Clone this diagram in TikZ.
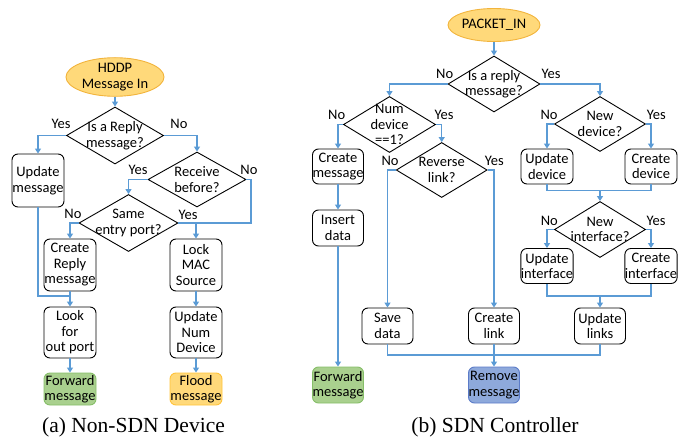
\documentclass[tikz,border=0pt]{standalone}
\usepackage{fontspec}
\setmainfont{Carlito}
\newfontfamily\capfont{Liberation Serif}
\usetikzlibrary{shapes.geometric,arrows.meta}
\definecolor{lineblue}{HTML}{5B9BD5}
\definecolor{ellfill}{HTML}{FFD97A}
\definecolor{ellline}{HTML}{F2B43C}
\definecolor{grfill}{HTML}{A9D08E}
\definecolor{grline}{HTML}{86BE68}
\definecolor{orfill}{HTML}{FFD97A}
\definecolor{orline}{HTML}{FFC33A}
\definecolor{blfill}{HTML}{8EA9DB}
\definecolor{blline}{HTML}{5B7BC8}
\tikzset{
  txt/.style={font=\fontsize{14.5}{15.5}\selectfont, align=center},
  stepbox/.style={txt, draw=black, line width=0.9pt, rounded corners=6pt, inner sep=0pt},
  ell/.style={txt, ellipse, draw=ellline, fill=ellfill, line width=0.9pt, inner sep=0pt},
  dia/.style={diamond, draw=black, line width=0.9pt, inner sep=0pt},
  dlab/.style={txt, inner sep=0pt},
  yn/.style={txt, inner sep=0pt},
  conn/.style={draw=lineblue, line width=1.4pt},
  arr/.style={conn, -{Triangle[length=5pt,width=6pt]}},
  captext/.style={font=\capfont\fontsize{21.5}{24}\selectfont, inner sep=0pt}
}
\begin{document}
\begin{tikzpicture}[x=1pt,y=-1pt]
\useasboundingbox (0,0) rectangle (683,439);
% ---------- (a) Non-SDN Device ----------
\node[ell, minimum width=98pt, minimum height=36pt] (hd) at (115,77) {HDDP\\Message In};
\node[dia, minimum width=97pt, minimum height=57pt, label={[dlab]center:{Is a Reply\\message?}}] (a1) at (115,135.5) {};
\node[stepbox, minimum width=52pt, minimum height=53pt] (upd) at (38,180.5) {Update\\message};
\node[dia, minimum width=98pt, minimum height=55pt, label={[dlab]center:{Receive\\before?}}] (a2) at (197,179.5) {};
\node[dia, minimum width=99pt, minimum height=57pt, label={[dlab]center:{Same\\entry port?}}] (a3) at (128.5,223) {};
\node[stepbox, minimum width=52pt, minimum height=52pt] (crr) at (70,265) {Create\\Reply\\message};
\node[stepbox, minimum width=52pt, minimum height=52pt] (lock) at (196,265) {Lock\\MAC\\Source};
\node[stepbox, minimum width=52pt, minimum height=51pt] (look) at (70,332.5) {Look\\for\\out port};
\node[stepbox, minimum width=52pt, minimum height=51pt] (unum) at (196,332.5) {Update\\Num\\Device};
\node[stepbox, draw=grline, fill=grfill, minimum width=52pt, minimum height=32pt] (fwd) at (70,389) {Forward\\message};
\node[stepbox, draw=orline, fill=orfill, minimum width=52pt, minimum height=32pt] (flood) at (196,389) {Flood\\message};
\coordinate (ja) at (70,296);
\coordinate (jr) at (251,179.5);
\draw[arr] (hd.south) -- (a1.north);
\draw[arr] (a1.west) -| (upd.north);
\draw[arr] (a1.east) -| (a2.north);
\draw[arr] (a2.west) -| (a3.north);
\draw[conn] (a2.east) -- (jr) |- (lock.north |- a3.east);
\draw[arr] (a3.east) -| (lock.north);
\draw[arr] (a3.west) -| (crr.north);
\draw[conn] (upd.south) |- (ja);
\draw[arr] (crr.south) -- (look.north);
\draw[arr] (look.south) -- (fwd.north);
\draw[arr] (lock.south) -- (unum.north);
\draw[arr] (unum.south) -- (flood.north);
\node[yn] (ya1) at (61,124) {Yes};
\node[yn] (na1) at (179,124) {No};
\node[yn] (ya2) at (138,170) {Yes};
\node[yn] (na2) at (249,170) {No};
\node[yn] (na3) at (73,214) {No};
\node[yn] (ya3) at (188,215) {Yes};
\node[captext] (capa) at (133.5,427) {(a) Non-SDN Device};
% ---------- (b) SDN Controller ----------
\node[ell, minimum width=92pt, minimum height=33pt] (pin) at (494,25) {PACKET\_IN};
\node[dia, minimum width=92pt, minimum height=56pt, label={[dlab]center:{Is a reply\\message?}}] (r1) at (494,84) {};
\node[dia, minimum width=92pt, minimum height=56pt, label={[dlab]center:{Num\\device\\==1?}}] (r2) at (389.5,124.5) {};
\node[stepbox, minimum width=51pt, minimum height=35pt] (cm) at (338,166.5) {Create\\message};
\node[dia, minimum width=91pt, minimum height=55pt, label={[dlab]center:{Reverse\\link?}}] (r3) at (441.7,170) {};
\node[stepbox, minimum width=51pt, minimum height=36pt] (ins) at (338,228) {Insert\\data};
\node[stepbox, draw=grline, fill=grfill, minimum width=51pt, minimum height=36pt] (fwd2) at (338,385) {Forward\\message};
\node[stepbox, minimum width=51pt, minimum height=36pt] (save) at (387.5,326) {Save\\data};
\node[stepbox, minimum width=51pt, minimum height=36pt] (clink) at (494,326) {Create\\link};
\node[stepbox, minimum width=51pt, minimum height=36pt] (ulinks) at (600,326) {Update\\links};
\node[stepbox, draw=blline, fill=blfill, minimum width=51pt, minimum height=36pt] (rem) at (494,385) {Remove\\message};
\node[dia, minimum width=91pt, minimum height=55pt, label={[dlab]center:{New\\device?}}] (r5) at (600,124) {};
\node[stepbox, minimum width=52pt, minimum height=35pt] (udev) at (547,166.5) {Update\\device};
\node[stepbox, minimum width=52pt, minimum height=35pt] (cdev) at (651,166.5) {Create\\device};
\node[dia, minimum width=91pt, minimum height=56pt, label={[dlab]center:{New\\interface?}}] (r6) at (600,229.5) {};
\node[stepbox, minimum width=52pt, minimum height=35pt] (uint) at (547,266) {Update\\interface};
\node[stepbox, minimum width=52pt, minimum height=35pt] (cint) at (651,266) {Create\\interface};
\coordinate (jd) at (600,190.7);
\coordinate (je) at (600,296);
\coordinate (jb) at (494,355);
\draw[arr] (pin.south) -- (r1.north);
\draw[arr] (r1.west) -| (r2.north);
\draw[arr] (r1.east) -| (r5.north);
\draw[arr] (r2.west) -| (cm.north);
\draw[arr] (r2.east) -| (r3.north);
\draw[arr] (cm.south) -- (ins.north);
\draw[arr] (ins.south) -- (fwd2.north);
\draw[arr] (r3.west) -| (save.north);
\draw[arr] (r3.east) -| (clink.north);
\draw[conn] (save.south) |- (jb);
\draw[conn] (ulinks.south) |- (jb);
\draw[arr] (clink.south) -- (rem.north);
\draw[arr] (r5.west) -| (udev.north);
\draw[arr] (r5.east) -| (cdev.north);
\draw[conn] (udev.south) |- (jd);
\draw[conn] (cdev.south) |- (jd);
\draw[arr] (jd) -- (r6.north);
\draw[arr] (r6.west) -| (uint.north);
\draw[arr] (r6.east) -| (cint.north);
\draw[conn] (uint.south) |- (je);
\draw[conn] (cint.south) |- (je);
\draw[arr] (je) -- (ulinks.north);
\node[yn] (nr1) at (444.7,74) {No};
\node[yn] (yr1) at (551,74) {Yes};
\node[yn] (nr2) at (336.7,115) {No};
\node[yn] (yr2) at (444,115) {Yes};
\node[yn] (nr3) at (390,160.7) {No};
\node[yn] (yr3) at (494.3,160.7) {Yes};
\node[yn] (nr5) at (549,115) {No};
\node[yn] (yr5) at (656.3,115) {Yes};
\node[yn] (nr6) at (549.3,220.5) {No};
\node[yn] (yr6) at (656,220.5) {Yes};
\node[captext] (capb) at (495,427.5) {(b) SDN Controller};
\end{tikzpicture}
\end{document}
